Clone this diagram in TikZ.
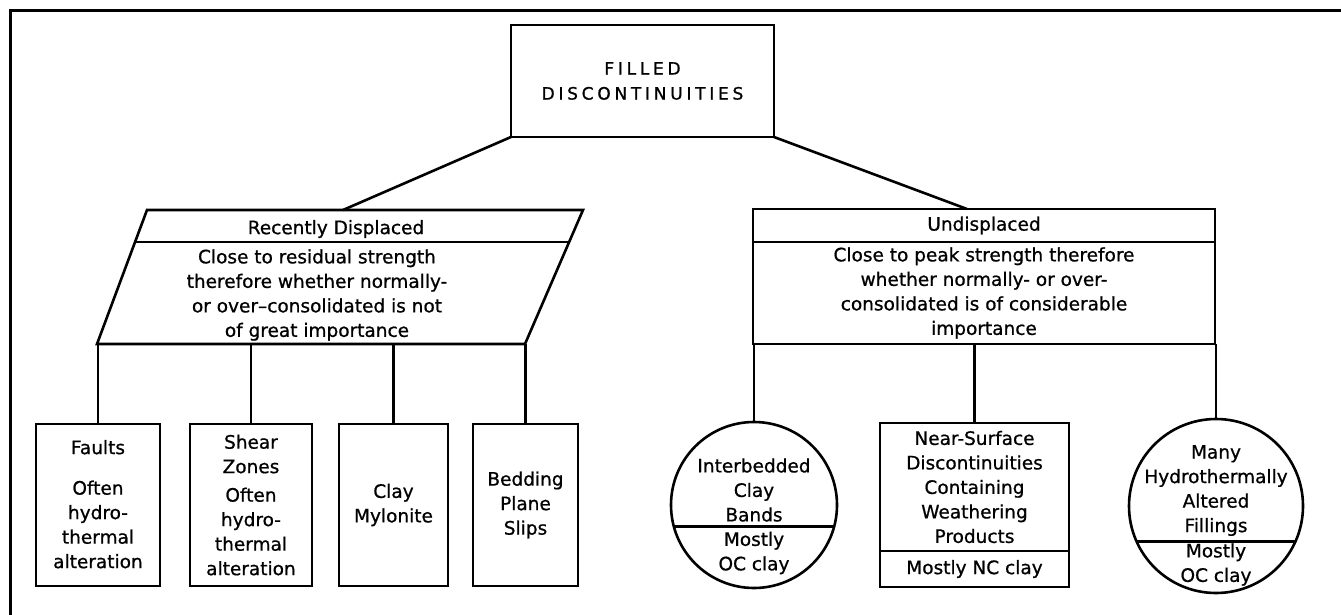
\documentclass[tikz,border=0pt]{standalone}
\usepackage{fontspec}
\setmainfont{DejaVu Sans}[FakeBold=0.8]
\newfontfamily\capsfont[LetterSpace=22,FakeBold=1]{DejaVu Sans}
\usetikzlibrary{calc,positioning}
\newcommand{\chartfont}{\fontsize{18.5}{24.5}\selectfont}
\tikzset{
	box/.style={draw, line width=2.6pt, inner sep=0pt, outer sep=0pt, align=center, font=\chartfont},
	ring/.style={draw, circle, line width=2.6pt, inner sep=0pt, outer sep=0pt},
	txt/.style={inner sep=0pt, align=center, font=\chartfont},
	link/.style={line width=2.6pt}
}

\begin{document}
\begin{tikzpicture}[x=1pt, y=-1pt]
		\useasboundingbox (0,0) rectangle (1341,615);

		% Draw the frame (only top and left edges show)
		\draw[line width=3pt] (10,615) -- (10,11) -- (1341,11);

		% Draw the top box
		\node[box, minimum width=263pt, minimum height=112pt, font=\fontsize{17}{25}\capsfont] (filled) at (642.5,81) {FILLED\\DISCONTINUITIES};

		% Draw the left parallelogram with its dividing line
		\coordinate (pTL) at (147,210);
		\coordinate (pTR) at (583,210);
		\coordinate (pBR) at (525,344);
		\coordinate (pBL) at (97,344);
		\coordinate (pJoin) at (343,210);
		\draw[link] (pTL) -- (pTR) -- (pBR) -- (pBL) -- cycle;
		\draw[link] ($(pBL)!0.761!(pTL)$) -- ($(pBR)!0.761!(pTR)$);
		\node[txt] (recent) at (336,229) {Recently Displaced};
		\node[txt] (recentbody) at (317,295) {Close to residual strength\\therefore whether normally-\\or over--consolidated is not\\of great importance};

		% Draw the right box with its header
		\node[box, minimum width=462pt, minimum height=33pt] (undisp) at (984,225.5) {Undisplaced};
		\node[box, minimum width=462pt, minimum height=102pt, below=0pt of undisp] (undispbody) {Close to peak strength therefore\\whether normally- or over-\\consolidated is of considerable\\importance};
		\coordinate (rJoin) at (967,209);

		% Join the top box to both branches
		\draw[link] (filled.south west) -- (pJoin);
		\draw[link] (filled.south east) -- (rJoin);

		% Draw the boxes below the left branch
		\node[box, minimum width=124pt, minimum height=162pt] (faults) at (98,505) {\\[-12pt]Faults\\[16pt]Often\\hydro-\\thermal\\alteration};
		\node[box, minimum width=122pt, minimum height=162pt] (shear) at (251,505) {Shear\\Zones\\[4pt]Often\\hydro-\\thermal\\alteration};
		\node[box, minimum width=109pt, minimum height=162pt] (mylonite) at (393.5,505) {Clay\\Mylonite};
		\node[box, minimum width=105pt, minimum height=162pt] (bedding) at (525.5,505) {Bedding\\Plane\\Slips};
		\foreach \n in {faults,shear,mylonite,bedding}
			\draw[link] (\n.north |- pBL) -- (\n.north);

		% Draw the shapes below the right branch
		\node[ring, minimum size=166pt] (interbed) at (754,505) {};
		\draw[link] (interbed.195.37) -- (interbed.-15.37);
		\node[txt] (interbedtop) at (754,490) {Interbedded\\Clay\\Bands};
		\node[txt] (interbedlow) at (754,553) {Mostly\\OC clay};

		\node[box, minimum width=189pt, minimum height=128pt] (nearsurf) at (974.5,487) {Near-Surface\\Discontinuities\\Containing\\Weathering\\Products};
		\node[box, minimum width=189pt, minimum height=36pt, below=0pt of nearsurf] (ncclay) {Mostly NC clay};

		\node[ring, minimum size=174pt] (hydro) at (1216,506) {};
		\draw[link] (hydro.204.08) -- (hydro.-24.08);
		\node[txt] (hydrotop) at (1216,490.5) {Many\\Hydrothermally\\Altered\\Fillings};
		\node[txt] (hydrolow) at (1216,564.5) {Mostly\\OC clay};

		\foreach \n in {interbed,nearsurf,hydro}
			\draw[link] (\n.north |- undispbody.south) -- (\n.north);
	\end{tikzpicture}
\end{document}
